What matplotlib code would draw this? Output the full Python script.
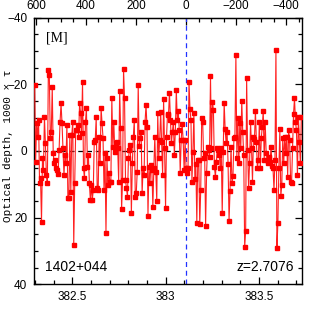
import numpy as np
import matplotlib
matplotlib.use("Agg")
import matplotlib.pyplot as plt
from matplotlib.ticker import MultipleLocator

# ---- data (1000 x tau) ----
tau_a = [-19.8, 3.2, -8.3, -4.3, -9.3, 9.7, 8.2, 21.2, 2.2, 5.7, -10.3, -2.3, 7.2, 9.7,
         -24.3, -22.8, -3.8, -5.8, -19.3, 0.7, 3.7, 2.7, 5.2, 5.7, 6.9, -0.3, -8.8, -14.3,
         -8.3, -0.8, 7.2, 1.2, 3.7, -7.8, 14.2, 14.2, -4.8, 12.2, -4.8, -8.8, 28.2, 9.7,
         -6.3, -6.3, -7.8, -4.3, -14.5]
tau_b = [-11.3, -5.3, -20.8, 5.2, 8.2, -8.8, -12.8, 4.7, 1.2, 9.7, 14.7, 10.2, 14.7, 11.7,
         -2.8, -3.3, -10.1, 11.2, 11.7, -4.3, 3.7, -12.8, -8.5, -3.8, 11.7, 0.7, 24.5, 2.2,
         10.2, 6.7, 9.2, 9.2, -15.8, -1.3, -8.8, 0.2, -2.3, -2.8, -0.8, 9.2, -18.1, -6.8,
         17.5, 8.7, -24.5]
tau_c = [-15.8, 8.7, 11.2, 13.7, 2.2, -0.3, -1.8, 18.7, 3.7, -4.3, -9.3, 13.7, 12.7, 6.2,
         -19.8, -1.5, -3.8, -5.8, 12.7, 5.2, 7.2, -8.8, -13.8, -7.3, 19.4, 4.7, 9.7, 4.2,
         5.7, 16.7, 5.2, -4.3, 6.2, 14.9, -11.5, 2.2, -3.3, -11.8, -2.8, 7.2, -15.5, -0.8,
         17.2, -4.3, -11.1, -10.8, -17.5, -9.3]
tau_d = [-2.3, -5.8, -8.8, 1.2, -5.8, -18.3, -9.3, -12.1, -6.3, 6.5, -3.3, -8.1, -3.3, 5.7,
         -3.3, 5.2, 6.5, 5.2, -20.8, -12.5, -9.3, 9.2, 0.2, -11.3, 8.5, 3.9, 21.5, 2.7, 2.7,
         21.9, 11.7, -9.8, -8.8, 2.2, 0.7, 22.4, 6.7, -1.3, -0.3, 1.7, -22.5, -0.8, -14.8,
         -12.3]
tau_e = [4.7, 7.7, 3.2, -0.8, -0.3, 1.2, 5.2, -0.8, 18.5, 0.2, -14.5, -6.5, -2.3, -5.8, 3.9,
         20.9, 11.9, -1.3, 9.7, 7.5, -3.8, -4.1, -28.8, 2.2, -9.8, 3.7, -8.5, -0.8, -15.1,
         -5.8, 1.2, 28.9, 23.9, -21.8, -0.3, 11.2, 3.7, -8.8, -0.8, 9.2, -4.3, -3.5, -12.1,
         -2.8, 5.2]
tau_f = [2.7, -8.8, 5.2, -3.8, -7.3, -12.1, 2.7, -8.8, 0.7, 2.7, 3.7, 1.7, 3.2, -1.1, 4.5,
         5.2, 11.7, 2.7, -30.3, 29.2, 21.5, 5.2, -6.5, 13.5, 10.2, -3.8, 3.7, -4.1, 0.7, -4.3,
         7.7, -6.3, -3.3, 9.2, 9.7, -0.8, -11.1, -15.8, -8.8, -6.3, 7.2, -10.3, -2.8, 3.7,
         -10.3]
tau = np.array(tau_a + tau_b + tau_c + tau_d + tau_e + tau_f)

freq_first = 382.298   # MHz, first channel
freq_last = 383.727    # MHz, last channel
freq = np.linspace(freq_first, freq_last, len(tau))

nu_line = 383.109      # expected line frequency (z=2.7076)
kms_per_mhz = 746.0    # velocity scale of the top axis

xlim = (382.296, 383.729)
ylim = (40, -40)
xticks_major = [382.5, 383.0, 383.5]
xtick_labels = ["382.5", "383", "383.5"]
vticks = [600, 400, 200, 0, -200, -400]
vtick_labels = ["600", "400", "200", "0", "\u2212200", "\u2212400"]
yticks = [-40, -20, 0, 20, 40]
ytick_labels = ["\u221240", "\u221220", "0", "20", "40"]

# ---- figure ----
fig = plt.figure(figsize=(3.19, 3.19), dpi=100)
ax = fig.add_axes([0.1075, 0.1088, 0.8383, 0.8357])

ax.axhline(0, color="black", ls=(0, (4, 3)), lw=0.9, zorder=1)
ax.axvline(nu_line, color="#2233ff", ls=(0, (4, 3)), lw=0.9, zorder=1)
ax.plot(freq, tau, color="#ff2020", lw=0.8, marker="s", ms=2.6,
        mec="#ff0000", mfc="#ff0000", zorder=3)

ax.set_xlim(*xlim)
ax.set_ylim(*ylim)

tickfont = dict(family="Liberation Sans", size=8.5)
ax.set_xticks(xticks_major)
ax.set_xticklabels(xtick_labels, **tickfont)
ax.set_yticks(yticks)
ax.set_yticklabels(ytick_labels, **tickfont)
ax.xaxis.set_minor_locator(MultipleLocator(0.1))
ax.yaxis.set_minor_locator(MultipleLocator(5))
ax.tick_params(which="both", direction="in", right=True, top=False, width=0.9)
ax.tick_params(which="major", length=5, pad=5)
ax.tick_params(which="minor", length=3)
for s in ax.spines.values():
    s.set_linewidth(1.0)

sec = ax.secondary_xaxis("top",
                         functions=(lambda f: (nu_line - f) * kms_per_mhz,
                                    lambda v: nu_line - v / kms_per_mhz))
sec.set_xticks(vticks)
sec.set_xticklabels(vtick_labels, **tickfont)
sec.xaxis.set_minor_locator(MultipleLocator(50))
sec.tick_params(which="both", direction="in", width=0.9)
sec.tick_params(which="major", length=5, pad=4)
sec.tick_params(which="minor", length=3)

ax.set_ylabel("Optical depth, 1000 \u00d7 \u03c4", family=["Liberation Mono", "DejaVu Sans"],
              fontsize=8)
ax.yaxis.set_label_coords(-0.078, 0.52)

ax.text(0.045, 0.95, "[M]", transform=ax.transAxes, family="Liberation Serif",
        fontsize=10, va="top", ha="left")
ax.text(0.04, 0.065, "1402+044", transform=ax.transAxes, family="Liberation Sans",
        fontsize=10, va="center", ha="left")
ax.text(0.97, 0.065, "z=2.7076", transform=ax.transAxes, family="Liberation Sans",
        fontsize=10, va="center", ha="right")

fig.savefig("out.png", dpi=100)
